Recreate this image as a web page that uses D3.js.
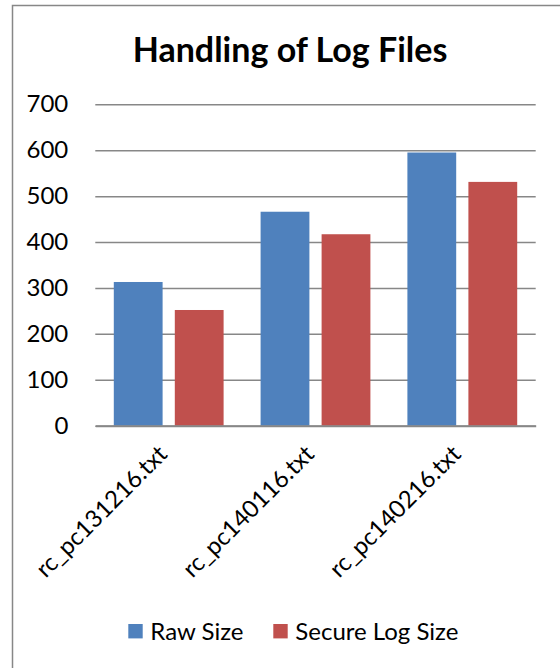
<!DOCTYPE html>
<html><head><meta charset="utf-8">
<script src="https://cdn.jsdelivr.net/npm/d3@7"></script>
<style>html,body{margin:0;padding:0;background:#fff;overflow:hidden}</style>
</head><body>
<svg id="chart" width="560" height="668"></svg>
<script>
const categories = ["rc_pc131216.txt", "rc_pc140116.txt", "rc_pc140216.txt"];
const seriesNames = ["Raw Size", "Secure Log Size"];
const rawSize = [313, 466, 595];
const secureLogSize = [252, 417, 531];
const yTicks = [0, 100, 200, 300, 400, 500, 600, 700];
const colors = ["#4F81BD", "#C0504D"];
const title = "Handling of Log Files";

const svg = d3.select("#chart");
const font = "Lato, 'Open Sans', sans-serif";
const plotLeft = 95.3, plotRight = 535.7, plotTop = 104.3, plotBottom = 425.7;

// outer border
svg.append("rect").attr("x", 12.5).attr("y", 5.5).attr("width", 600).attr("height", 700)
  .attr("fill", "none").attr("stroke", "#878787").attr("stroke-width", 1.5);

const y = d3.scaleLinear().domain([0, 700]).range([plotBottom, plotTop]);
const x0 = d3.scaleBand().domain(categories).range([plotLeft, plotRight]).paddingInner(0.252).paddingOuter(0.126);
const x1 = d3.scaleBand().domain(seriesNames).range([0, x0.bandwidth()]).paddingInner(0.2).paddingOuter(0);
const color = d3.scaleOrdinal().domain(seriesNames).range(colors);

// gridlines
const yAxis = d3.axisLeft(y).tickValues(yTicks).tickSize(-(plotRight - plotLeft)).tickPadding(27).tickFormat(d3.format("d"));
const gy = svg.append("g").attr("transform", `translate(${plotLeft},0)`).call(yAxis);
gy.select(".domain").remove();
gy.selectAll(".tick line").attr("stroke", "#878787").attr("stroke-width", 1.5);
gy.selectAll(".tick text").attr("font-family", font).attr("font-size", 24).attr("fill", "#000");

// bars
const data = categories.map((c, i) => ({cat: c, values: [
  {name: seriesNames[0], value: rawSize[i]},
  {name: seriesNames[1], value: secureLogSize[i]}]}));
svg.append("g").selectAll("g").data(data).join("g")
  .attr("transform", d => `translate(${x0(d.cat)},0)`)
  .selectAll("rect").data(d => d.values).join("rect")
  .attr("x", d => x1(d.name)).attr("width", x1.bandwidth())
  .attr("y", d => y(d.value)).attr("height", d => y(0) - y(d.value))
  .attr("fill", d => color(d.name));

// x axis
const xAxis = d3.axisBottom(x0).tickSize(0).tickPadding(0);
const gx = svg.append("g").attr("transform", `translate(0,${plotBottom})`).call(xAxis);
gx.select(".domain").attr("stroke", "#878787").attr("stroke-width", 2);
gx.selectAll(".tick text")
  .attr("font-family", font).attr("font-size", 24).attr("fill", "#000")
  .attr("text-anchor", "end").attr("dy", null).attr("y", 0).attr("x", 0)
  .attr("transform", "translate(0,30) rotate(-45)");

// title
svg.append("text").attr("x", 290).attr("y", 62).attr("text-anchor", "middle")
  .attr("font-family", font).attr("font-weight", "bold").attr("font-size", 34).attr("fill", "#000")
  .text(title);

// legend
const legendItems = [{name: seriesNames[0], x: 128.3}, {name: seriesNames[1], x: 273.3}];
const lg = svg.append("g");
legendItems.forEach(it => {
  lg.append("rect").attr("x", it.x).attr("y", 624).attr("width", 14.4).attr("height", 14.4).attr("fill", color(it.name));
  lg.append("text").attr("x", it.x + 22).attr("y", 639.5).attr("font-family", font).attr("font-size", 24).attr("fill", "#000").text(it.name);
});
</script>
</body></html>
